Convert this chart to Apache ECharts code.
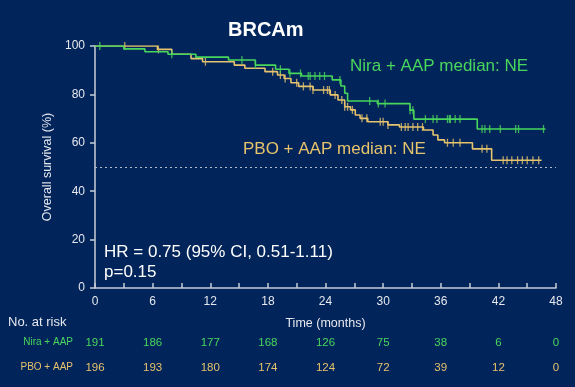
<!DOCTYPE html>
<html><head><meta charset="utf-8">
<script src="https://cdn.jsdelivr.net/npm/echarts@6/dist/echarts.min.js"></script>
<style>html,body{margin:0;padding:0;background:#01245A;}#c{width:575px;height:387px;}</style>
</head><body><div id="c"></div>
<script>
// Kaplan-Meier steps: [time (months), survival % after the step]
var niraSteps = [[0,100],[3.0,98.8],[5.2,97.6],[7.6,96.6],[10.5,95.4],[13.9,94.2],[16.7,92.1],[18.8,90.4],[20.2,88.7],[21.5,87.6],[24.7,86.0],[25.6,83.5],[26.0,80.5],[26.3,77.3],[29.4,76.2],[32.8,73.5],[33.2,69.8],[39.8,65.7],[46.9,65.7]];
var pboSteps = [[0,100],[6.5,98.6],[8.0,96.6],[10.0,94.8],[11.2,93.5],[14.5,92.1],[15.6,90.8],[17.7,89.4],[19.0,88.0],[19.7,86.6],[20.4,84.8],[21.2,83.3],[22.7,81.8],[24.5,79.8],[25.3,77.7],[26.0,74.9],[26.6,73.6],[27.1,71.5],[27.6,70.1],[28.4,68.7],[30.5,67.4],[31.7,66.5],[34.2,65.3],[35.2,63.2],[35.7,61.2],[36.4,60.0],[39.3,57.5],[41.3,52.8],[46.5,52.8]];
// Censoring times (months)
var niraCensor = [0.5,8.0,15.3,16.7,19.3,20.3,21.4,22.2,22.4,22.9,23.4,23.9,25.5,28.6,29.5,30.2,32.8,33.1,34.4,35.2,35.6,36.7,36.9,37.0,37.5,38.0,40.3,40.6,41.1,42.2,43.8,44.1,46.7];
var pboCensor = [3.1,6.6,11.5,18.5,19.3,19.8,21.0,21.7,22.4,22.7,23.8,24.2,24.4,25.0,25.7,26.0,26.3,26.8,27.8,28.3,29.7,30.0,30.5,31.9,32.3,32.6,33.1,33.6,34.1,36.7,37.3,38.0,40.3,40.8,42.5,42.9,43.4,44.0,44.5,45.0,45.6,46.2];
// Number at risk
var riskTimes = [0,6,12,18,24,30,36,42,48];
var niraRisk = [191,186,177,168,126,75,38,6,0];
var pboRisk = [196,193,180,174,124,72,39,12,0];
var yTicks = [0,20,40,60,80,100];

var GREEN = '#48D65C', YELLOW = '#E6C36C', BG = '#01245A', AX = '#C8CCD6', TXT = '#E6E8EE';
var FONT = 'Liberation Sans, Arial, sans-serif';

function survAt(steps, t) {
  var s = steps[0][1];
  for (var i = 0; i < steps.length; i++) { if (steps[i][0] <= t) s = steps[i][1]; }
  return s;
}
function censorData(steps, times) { return times.map(function (t) { return [t, survAt(steps, t)]; }); }
function riskFmt(arr) { return function (v) { var i = riskTimes.indexOf(v); return i >= 0 ? String(arr[i]) : ''; }; }

var baseX = { type: 'value', min: 0, max: 48, interval: 6, gridIndex: 0 };
var chart = echarts.init(document.getElementById('c'), null, { renderer: 'canvas' });
chart.setOption({
  backgroundColor: BG,
  animation: false,
  textStyle: { fontFamily: FONT },
  title: { text: 'BRCAm', left: 223, top: 15,
    textStyle: { color: '#FFFFFF', fontSize: 20, fontWeight: 'bold', fontFamily: FONT } },
  grid: { left: 95, right: 19, top: 46, bottom: 99 },
  xAxis: [
    Object.assign({}, baseX, {
      name: 'Time (months)', nameLocation: 'middle', nameGap: 29,
      nameTextStyle: { color: TXT, fontSize: 12.5 },
      axisLine: { lineStyle: { color: AX, width: 1.5 } },
      axisTick: { inside: true, length: 5, lineStyle: { color: AX, width: 1.5 } },
      minorTick: { show: true, splitNumber: 2, length: 5, lineStyle: { color: AX, width: 1.5 } },
      axisLabel: { color: TXT, fontSize: 12, margin: 8 },
      splitLine: { show: false }
    }),
    Object.assign({}, baseX, {
      position: 'bottom', offset: 55,
      axisLine: { show: false }, axisTick: { show: false }, splitLine: { show: false },
      axisLabel: { color: GREEN, fontSize: 11.5, margin: 0, verticalAlign: 'middle', formatter: riskFmt(niraRisk) }
    }),
    Object.assign({}, baseX, {
      position: 'bottom', offset: 80,
      axisLine: { show: false }, axisTick: { show: false }, splitLine: { show: false },
      axisLabel: { color: YELLOW, fontSize: 11.5, margin: 0, verticalAlign: 'middle', formatter: riskFmt(pboRisk) }
    })
  ],
  yAxis: {
    type: 'value', min: 0, max: 100, interval: 20,
    name: 'Overall survival (%)', nameLocation: 'middle', nameGap: 39,
    nameTextStyle: { color: TXT, fontSize: 12.5 },
    axisLine: { show: true, lineStyle: { color: AX, width: 1.5 } },
    axisTick: { show: true, length: 5, lineStyle: { color: AX, width: 1.5 } },
    axisLabel: { color: TXT, fontSize: 12, margin: 10,
      formatter: function (v) { return yTicks.indexOf(v) >= 0 ? String(v) : ''; } },
    splitLine: { show: false }
  },
  series: [
    { type: 'line', name: 'PBO + AAP', step: 'end', data: pboSteps, showSymbol: false,
      lineStyle: { color: YELLOW, width: 1.6 }, z: 3,
      markLine: { silent: true, symbol: 'none', label: { show: false },
        lineStyle: { color: '#B4BCCC', type: [2, 3], width: 1 }, data: [{ yAxis: 50 }] } },
    { type: 'line', name: 'Nira + AAP', step: 'end', data: niraSteps, showSymbol: false,
      lineStyle: { color: GREEN, width: 1.6 }, z: 4 },
    { type: 'scatter', data: censorData(pboSteps, pboCensor), symbol: 'rect', symbolSize: [1.3, 8],
      itemStyle: { color: YELLOW }, z: 3 },
    { type: 'scatter', data: censorData(niraSteps, niraCensor), symbol: 'rect', symbolSize: [1.3, 8],
      itemStyle: { color: GREEN }, z: 4 }
  ],
  graphic: [
    { type: 'text', left: 350, top: 58, style: { text: 'Nira + AAP median: NE', fill: GREEN, font: '17px ' + FONT } },
    { type: 'text', left: 243, top: 141, style: { text: 'PBO + AAP median: NE', fill: YELLOW, font: '17px ' + FONT } },
    { type: 'text', left: 104, top: 244, style: { text: 'HR = 0.75 (95% CI, 0.51-1.11)', fill: '#FFFFFF', font: '17px ' + FONT } },
    { type: 'text', left: 104, top: 264, style: { text: 'p=0.15', fill: '#FFFFFF', font: '17px ' + FONT } },
    { type: 'text', left: 8, top: 316, style: { text: 'No. at risk', fill: TXT, font: '13px ' + FONT } },
    { type: 'text', right: 502, top: 337, style: { text: 'Nira + AAP', fill: GREEN, font: '10px ' + FONT } },
    { type: 'text', right: 502, top: 362, style: { text: 'PBO + AAP', fill: YELLOW, font: '10px ' + FONT } }
  ]
});
</script></body></html>
